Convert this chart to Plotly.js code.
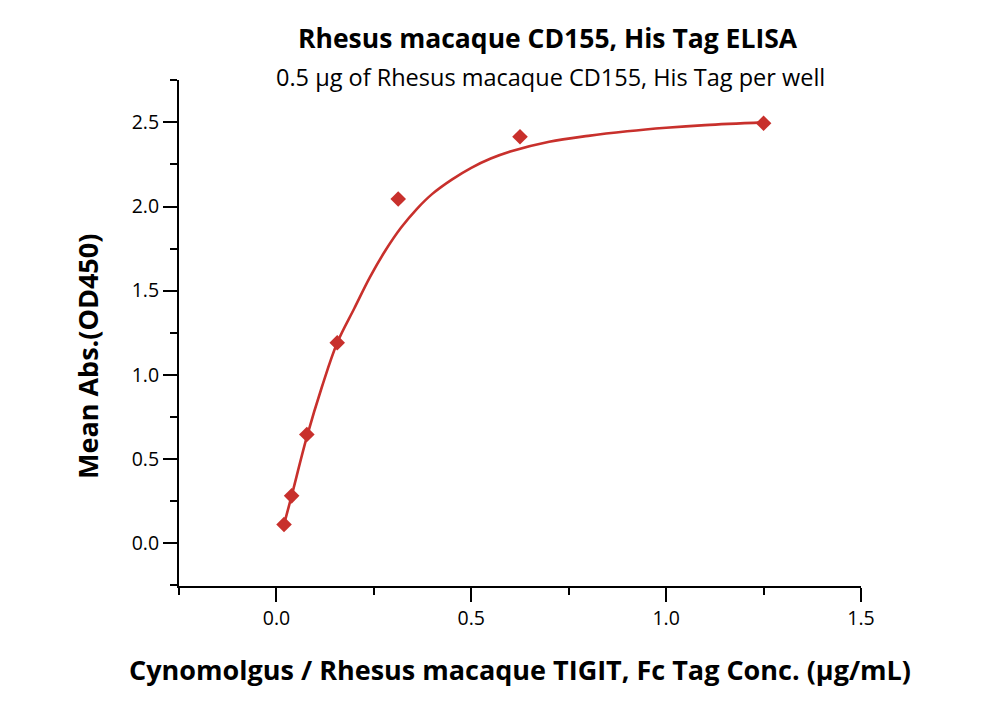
<!DOCTYPE html>
<html>
<head>
<meta charset="utf-8">
<script src="https://cdn.plot.ly/plotly-3.0.1.min.js"></script>
<style>
  html, body { margin: 0; padding: 0; background: #ffffff; }
  #myChart { width: 1000px; height: 702px; }
</style>
</head>
<body>
<div id="myChart"></div>
<script>
// measured points (conc. in ug/mL, mean OD450)
const conc = [0.0195, 0.039, 0.078, 0.156, 0.3125, 0.625, 1.25];
const od450 = [0.11, 0.28, 0.645, 1.19, 2.045, 2.415, 2.495];

// fitted curve
const fit_x = [0.0195, 0.039, 0.078, 0.117, 0.156, 0.2, 0.24, 0.28, 0.32, 0.36, 0.4, 0.45, 0.5, 0.55, 0.6, 0.7, 0.8, 0.9, 1.0, 1.1, 1.25];
const fit_y = [0.11, 0.28, 0.63, 0.93, 1.19, 1.395, 1.58, 1.74, 1.875, 1.985, 2.075, 2.16, 2.23, 2.285, 2.327, 2.385, 2.42, 2.447, 2.468, 2.484, 2.50];

const x_ticks = [0.0, 0.5, 1.0, 1.5];
const x_labels = ['0.0', '0.5', '1.0', '1.5'];
const y_ticks = [0.0, 0.5, 1.0, 1.5, 2.0, 2.5];
const y_labels = ['0.0', '0.5', '1.0', '1.5', '2.0', '2.5'];

const RED = '#c8302c';
const FONT = '"Open Sans", sans-serif';

const curve = {
    x: fit_x,
    y: fit_y,
    type: 'scatter',
    mode: 'lines',
    line: { color: RED, width: 2.6, shape: 'spline', smoothing: 1 },
    hoverinfo: 'skip',
    showlegend: false
};

const points = {
    x: conc,
    y: od450,
    type: 'scatter',
    mode: 'markers',
    marker: { symbol: 'diamond', color: RED, size: 12 },
    showlegend: false
};

const layout = {
    width: 1000,
    height: 702,
    font: { family: FONT, color: '#000000' },
    paper_bgcolor: '#ffffff',
    plot_bgcolor: '#ffffff',
    margin: { l: 179, r: 139, t: 80, b: 116 },
    showlegend: false,
    xaxis: {
        range: [-0.25, 1.5],
        tickvals: x_ticks,
        ticktext: x_labels,
        ticks: 'outside',
        ticklen: 14,
        tickwidth: 2,
        tickcolor: '#000000',
        minor: { dtick: 0.25, tick0: 0, ticks: 'outside', ticklen: 7, tickwidth: 2, tickcolor: '#000000', showgrid: false },
        showline: true,
        linecolor: '#000000',
        linewidth: 2,
        showgrid: false,
        zeroline: false,
        tickfont: { size: 19.5, family: FONT },
        title: {
            text: '<b>Cynomolgus / Rhesus macaque TIGIT, Fc Tag Conc. (μg/mL)</b>',
            font: { size: 27, family: FONT },
            standoff: 31
        }
    },
    yaxis: {
        range: [-0.256, 2.752],
        tickvals: y_ticks,
        ticktext: y_labels,
        ticks: 'outside',
        ticklen: 14,
        tickwidth: 2,
        tickcolor: '#000000',
        minor: { dtick: 0.25, tick0: 0, ticks: 'outside', ticklen: 7, tickwidth: 2, tickcolor: '#000000', showgrid: false },
        showline: true,
        linecolor: '#000000',
        linewidth: 2,
        showgrid: false,
        zeroline: false,
        tickfont: { size: 19.5, family: FONT }
    },
    annotations: [
        {
            text: '<b>Rhesus macaque CD155, His Tag ELISA</b>',
            xref: 'paper', yref: 'paper',
            x: 0.541, y: 1.0, yshift: 42,
            xanchor: 'center', yanchor: 'middle',
            showarrow: false,
            font: { size: 26.5, family: FONT }
        },
        {
            text: '0.5 μg of Rhesus macaque CD155, His Tag per well',
            xref: 'paper', yref: 'paper',
            x: 0.544, y: 1.0, yshift: 3,
            xanchor: 'center', yanchor: 'middle',
            showarrow: false,
            font: { size: 23.5, family: FONT }
        },
        {
            // y axis title, sits a bit below the plot centre in the original
            text: '<b>Mean Abs.(OD450)</b>',
            xref: 'paper', yref: 'paper',
            x: -0.1334, y: 0.4526,
            xanchor: 'center', yanchor: 'middle',
            textangle: -90,
            showarrow: false,
            font: { size: 27, family: FONT }
        }
    ]
};

Plotly.newPlot('myChart', [curve, points], layout, { displayModeBar: false, staticPlot: true });
</script>
</body>
</html>
